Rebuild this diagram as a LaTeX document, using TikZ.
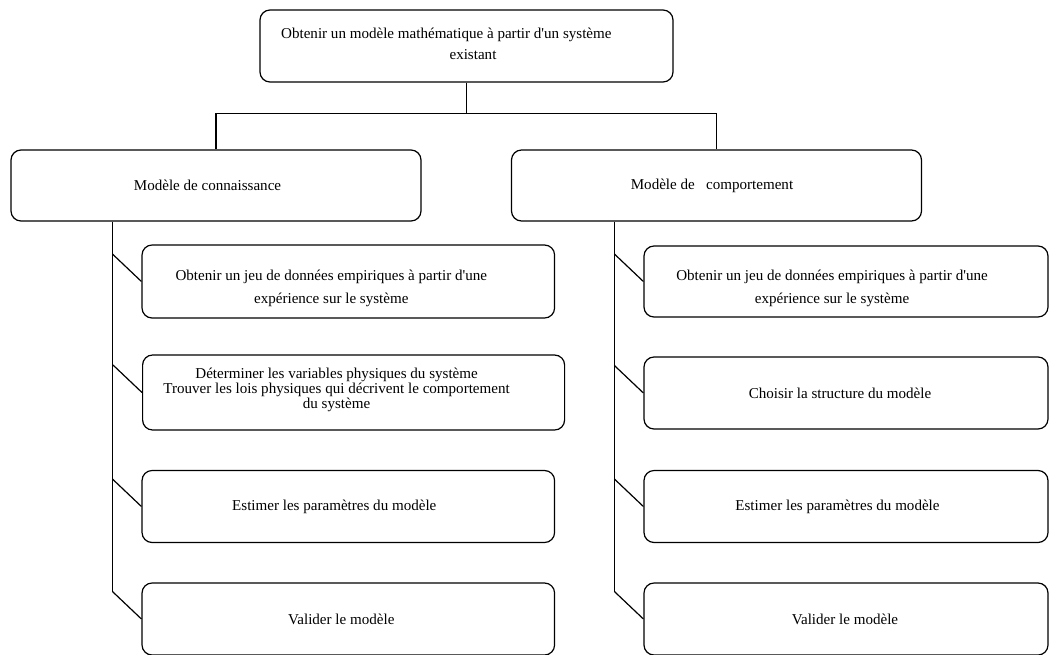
\documentclass[tikz,border=0pt]{standalone}
\usepackage{fontspec}
\setmainfont{Liberation Serif}
\usepackage{tikz}

\begin{document}
\begin{tikzpicture}[x=0.75pt,y=-0.75pt,
  box/.style={draw, rounded corners=7.5pt, line width=0.9pt, inner sep=0pt},
  txt/.style={align=center, inner sep=0pt, font=\fontsize{11.3}{13}\selectfont},
  link/.style={line width=0.9pt}]
  \def\wk{309.4pt}
  \def\wc{303pt}
  \def\hk{54pt}
  \useasboundingbox (0,0) rectangle (1049,654);
  % top level
  \node[box, minimum width=309.75pt, minimum height=54pt] (modele) at (466.5,46) {};
  \node[box, minimum width=307.5pt, minimum height=53.25pt] (conn) at (216,185.5) {};
  \node[box, minimum width=307.5pt, minimum height=53.25pt] (comp) at (716.5,185.5) {};
  \node[txt] (t-modele) at ([shift={(6.5,-2.5)}]modele.center)
    {Obtenir un modèle mathématique à partir d\textquotesingle un système\hspace*{40pt}\\[2.75pt] existant};
  \node[txt] (t-conn) at ([shift={(-8.5,0)}]conn.center) {Modèle de connaissance};
  \node[txt] (t-comp) at ([shift={(-4.5,0)}]comp.center) {Modèle de\ \ \ comportement};
  % left column
  \node[box, minimum width=\wk, minimum height=54.75pt] (conn1) at (348.3,281.5) {};
  \node[box, minimum width=316.5pt, minimum height=56.25pt] (conn2) at (353.6,392.5) {};
  \node[box, minimum width=\wk, minimum height=\hk] (conn3) at (348.3,506.5) {};
  \node[box, minimum width=\wk, minimum height=\hk] (conn4) at (348.3,619) {};
  \node[txt] (t-conn1) at ([shift={(-17,7)}]conn1.center)
    {Obtenir un jeu de données empiriques à partir d\textquotesingle une\\[4.25pt] expérience sur le système};
  \node[txt] (t-conn2) at ([shift={(-17,-2.5)}]conn2.center)
    {Déterminer les variables physiques du système\\[-1.75pt] Trouver les lois physiques qui décrivent le comportement\\[-1.75pt] du système};
  \node[txt] (t-conn3) at ([shift={(-14,0)}]conn3.center) {Estimer les paramètres du modèle};
  \node[txt] (t-conn4) at ([shift={(-7,0)}]conn4.center) {Valider le modèle};
  % right column
  \node[box, minimum width=\wc, minimum height=53.25pt] (comp1) at (846,281.5) {};
  \node[box, minimum width=\wc, minimum height=54pt] (comp2) at (846,393) {};
  \node[box, minimum width=\wc, minimum height=\hk] (comp3) at (846,506.5) {};
  \node[box, minimum width=\wc, minimum height=\hk] (comp4) at (846,619) {};
  \node[txt] (t-comp1) at ([shift={(-14,7)}]comp1.center)
    {Obtenir un jeu de données empiriques à partir d\textquotesingle une\\[4.25pt] expérience sur le système};
  \node[txt] (t-comp2) at ([shift={(-6,0)}]comp2.center) {Choisir la structure du modèle};
  \node[txt] (t-comp3) at ([shift={(-8.5,0)}]comp3.center) {Estimer les paramètres du modèle};
  \node[txt] (t-comp4) at ([shift={(-1,0)}]comp4.center) {Valider le modèle};
  % connectors
  \draw[link] (modele.south) -- ++(0,31) coordinate (fork);
  \draw[link] (conn.north) |- (fork) -| (comp.north);
  \foreach \s in {conn,comp}{
    \foreach \i in {1,...,4}{
      \draw[link] (\s\i.west) -- ++(-29,-27.5) coordinate (\s k\i);
    }
    \draw[link] (\s.south -| \s k1) -- (\s k4);
  }
\end{tikzpicture}
\end{document}
